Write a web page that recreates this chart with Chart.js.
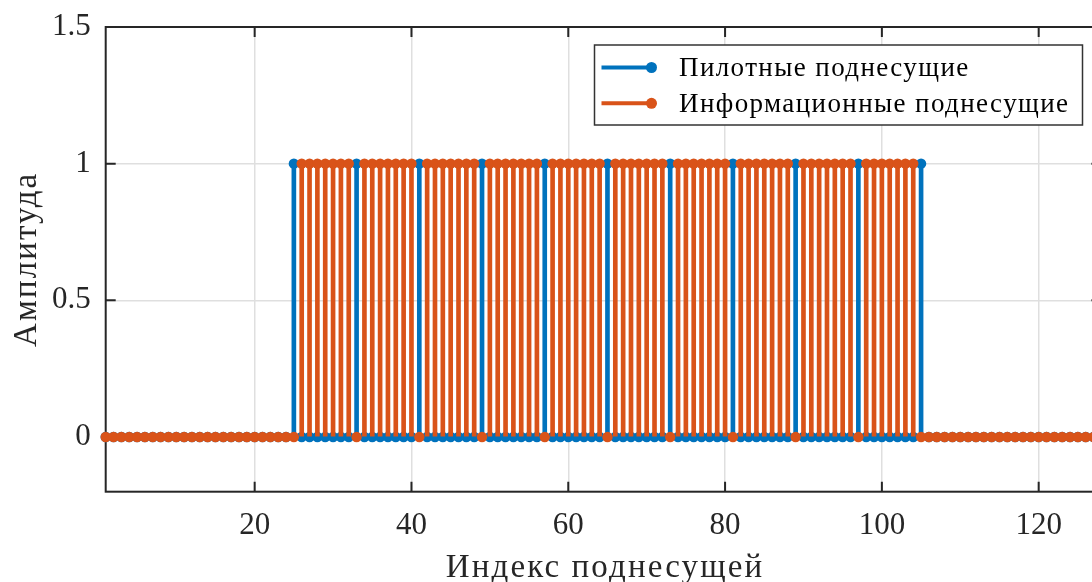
<!DOCTYPE html>
<html lang="ru">
<head>
<meta charset="utf-8">
<title>Пилотные и информационные поднесущие</title>
<script src="https://cdn.jsdelivr.net/npm/chart.js@4/dist/chart.umd.min.js"></script>
<style>
  html, body { margin: 0; padding: 0; width: 1092px; height: 582px; overflow: hidden; background: #fff; }
  #wrap { position: relative; width: 1120px; height: 582px; }
  canvas { display: block; }
</style>
</head>
<body>
<div id="wrap"><canvas id="chart" width="1120" height="582"></canvas></div>
<script>
// Subcarrier indices 1..128
const subcarrierIndex = [
  1, 2, 3, 4, 5, 6, 7, 8, 9, 10, 11, 12, 13, 14, 15, 16,
  17, 18, 19, 20, 21, 22, 23, 24, 25, 26, 27, 28, 29, 30, 31, 32,
  33, 34, 35, 36, 37, 38, 39, 40, 41, 42, 43, 44, 45, 46, 47, 48,
  49, 50, 51, 52, 53, 54, 55, 56, 57, 58, 59, 60, 61, 62, 63, 64,
  65, 66, 67, 68, 69, 70, 71, 72, 73, 74, 75, 76, 77, 78, 79, 80,
  81, 82, 83, 84, 85, 86, 87, 88, 89, 90, 91, 92, 93, 94, 95, 96,
  97, 98, 99, 100, 101, 102, 103, 104, 105, 106, 107, 108, 109, 110, 111, 112,
  113, 114, 115, 116, 117, 118, 119, 120, 121, 122, 123, 124, 125, 126, 127, 128
];

// Pilot subcarrier amplitudes
const pilotAmplitude = [
  0, 0, 0, 0, 0, 0, 0, 0, 0, 0, 0, 0, 0, 0, 0, 0,
  0, 0, 0, 0, 0, 0, 0, 0, 1, 0, 0, 0, 0, 0, 0, 0,
  1, 0, 0, 0, 0, 0, 0, 0, 1, 0, 0, 0, 0, 0, 0, 0,
  1, 0, 0, 0, 0, 0, 0, 0, 1, 0, 0, 0, 0, 0, 0, 0,
  1, 0, 0, 0, 0, 0, 0, 0, 1, 0, 0, 0, 0, 0, 0, 0,
  1, 0, 0, 0, 0, 0, 0, 0, 1, 0, 0, 0, 0, 0, 0, 0,
  1, 0, 0, 0, 0, 0, 0, 0, 1, 0, 0, 0, 0, 0, 0, 0,
  0, 0, 0, 0, 0, 0, 0, 0, 0, 0, 0, 0, 0, 0, 0, 0
];

// Data subcarrier amplitudes
const dataAmplitude = [
  0, 0, 0, 0, 0, 0, 0, 0, 0, 0, 0, 0, 0, 0, 0, 0,
  0, 0, 0, 0, 0, 0, 0, 0, 0, 1, 1, 1, 1, 1, 1, 1,
  0, 1, 1, 1, 1, 1, 1, 1, 0, 1, 1, 1, 1, 1, 1, 1,
  0, 1, 1, 1, 1, 1, 1, 1, 0, 1, 1, 1, 1, 1, 1, 1,
  0, 1, 1, 1, 1, 1, 1, 1, 0, 1, 1, 1, 1, 1, 1, 1,
  0, 1, 1, 1, 1, 1, 1, 1, 0, 1, 1, 1, 1, 1, 1, 1,
  0, 1, 1, 1, 1, 1, 1, 1, 0, 0, 0, 0, 0, 0, 0, 0,
  0, 0, 0, 0, 0, 0, 0, 0, 0, 0, 0, 0, 0, 0, 0, 0
];

const seriesNames = ['Пилотные поднесущие', 'Информационные поднесущие'];
const xTicks = [20, 40, 60, 80, 100, 120];
const xTickLabels = ['20', '40', '60', '80', '100', '120'];
const yTicks = [0, 0.5, 1, 1.5];
const yTickLabels = ['0', '0.5', '1', '1.5'];
const xTitle = 'Индекс поднесущей';
const yTitle = 'Амплитуда';

const BLUE = '#0072BD';
const ORANGE = '#D95319';
const AXIS = '#262626';
const SERIF = '"Liberation Serif", "Times New Roman", serif';
const STEM_W = 4;
const DOT_R = 5.2;

const pts = (vals) => subcarrierIndex.map((x, i) => ({ x: x, y: vals[i] }));

// Axes box and inward tick marks
const boxPlugin = {
  id: 'axesBox',
  beforeDatasetsDraw(chart) {
    const { ctx, chartArea: a, scales } = chart;
    ctx.save();
    ctx.strokeStyle = AXIS;
    ctx.lineWidth = 2;
    ctx.strokeRect(a.left, a.top, a.right - a.left, a.bottom - a.top);
    const tl = 10;
    ctx.beginPath();
    xTicks.forEach(v => {
      const px = scales.x.getPixelForValue(v);
      ctx.moveTo(px, a.bottom); ctx.lineTo(px, a.bottom - tl);
      ctx.moveTo(px, a.top); ctx.lineTo(px, a.top + tl);
    });
    yTicks.forEach(v => {
      const py = scales.y.getPixelForValue(v);
      ctx.moveTo(a.left, py); ctx.lineTo(a.left + tl, py);
      ctx.moveTo(a.right, py); ctx.lineTo(a.right - tl, py);
    });
    ctx.stroke();
    ctx.restore();
  }
};

// Axis titles, centred on the plot area
const titlesPlugin = {
  id: 'axisTitles',
  afterDraw(chart) {
    const { ctx, chartArea: a } = chart;
    ctx.save();
    ctx.fillStyle = AXIS;
    ctx.font = '33px ' + SERIF;
    ctx.letterSpacing = '2.1px';
    ctx.textAlign = 'center';
    ctx.textBaseline = 'alphabetic';
    ctx.fillText(xTitle, 605, 577);
    ctx.translate(36, (a.top + a.bottom) / 2);
    ctx.rotate(-Math.PI / 2);
    ctx.fillText(yTitle, 0, 0);
    ctx.restore();
  }
};

// Legend box with line-and-marker samples
const legendPlugin = {
  id: 'stemLegend',
  afterDraw(chart) {
    const { ctx } = chart;
    const box = { x: 594.5, y: 45, w: 488, h: 80 };
    ctx.save();
    ctx.fillStyle = '#ffffff';
    ctx.fillRect(box.x, box.y, box.w, box.h);
    ctx.strokeStyle = '#333333';
    ctx.lineWidth = 1.5;
    ctx.strokeRect(box.x, box.y, box.w, box.h);
    const rows = [67.5, 103.3];
    const colors = [BLUE, ORANGE];
    rows.forEach((y, i) => {
      ctx.strokeStyle = colors[i];
      ctx.lineWidth = STEM_W;
      ctx.beginPath();
      ctx.moveTo(601.5, y); ctx.lineTo(651.5, y);
      ctx.stroke();
      ctx.fillStyle = colors[i];
      ctx.beginPath();
      ctx.arc(651.5, y, 5.5, 0, Math.PI * 2);
      ctx.fill();
      ctx.fillStyle = '#000000';
      ctx.font = '27px ' + SERIF;
      ctx.letterSpacing = '1.4px';
      ctx.textBaseline = 'middle';
      ctx.textAlign = 'left';
      ctx.fillText(seriesNames[i], 679, y + 1.5);
    });
    ctx.restore();
  }
};

new Chart(document.getElementById('chart'), {
  type: 'scatter',
  data: {
    datasets: [
      { type: 'bar', label: seriesNames[0] + ' stem', data: pts(pilotAmplitude),
        backgroundColor: BLUE, barThickness: STEM_W, grouped: false, order: 4, borderWidth: 0 },
      { type: 'scatter', label: seriesNames[0], data: pts(pilotAmplitude),
        backgroundColor: BLUE, borderWidth: 0, pointRadius: DOT_R, showLine: false, order: 3, clip: false },
      { type: 'bar', label: seriesNames[1] + ' stem', data: pts(dataAmplitude),
        backgroundColor: ORANGE, barThickness: STEM_W, grouped: false, order: 2, borderWidth: 0 },
      { type: 'scatter', label: seriesNames[1], data: pts(dataAmplitude),
        backgroundColor: ORANGE, borderWidth: 0, pointRadius: DOT_R, showLine: false, order: 1, clip: false }
    ]
  },
  options: {
    responsive: false,
    animation: false,
    events: [],
    layout: { padding: { top: 27, right: 18.6, left: 0, bottom: 0 } },
    plugins: { legend: { display: false }, tooltip: { enabled: false } },
    scales: {
      x: {
        type: 'linear', min: 1, max: 128, offset: false,
        afterFit: s => { s.height = 90.3; s.paddingLeft = 0; s.paddingRight = 0; },
        afterBuildTicks: s => { s.ticks = xTicks.map(v => ({ value: v })); },
        grid: { color: '#dfdfdf', lineWidth: 1.5, drawTicks: false, offset: false },
        border: { display: false },
        ticks: {
          color: AXIS, font: { family: SERIF, size: 31 }, padding: 16,
          maxRotation: 0, autoSkip: false,
          callback: v => xTickLabels[xTicks.indexOf(v)]
        },
        title: { display: false }
      },
      y: {
        type: 'linear', min: -0.2, max: 1.5,
        afterFit: s => { s.width = 105.7; s.paddingTop = 0; s.paddingBottom = 0; },
        afterBuildTicks: s => { s.ticks = yTicks.map(v => ({ value: v })); },
        grid: { color: '#dfdfdf', lineWidth: 1.5, drawTicks: false },
        border: { display: false },
        ticks: {
          color: AXIS, font: { family: SERIF, size: 31 }, padding: 15,
          autoSkip: false,
          callback: v => yTickLabels[yTicks.indexOf(v)]
        },
        title: { display: false }
      }
    }
  },
  plugins: [boxPlugin, titlesPlugin, legendPlugin]
});
</script>
</body>
</html>
